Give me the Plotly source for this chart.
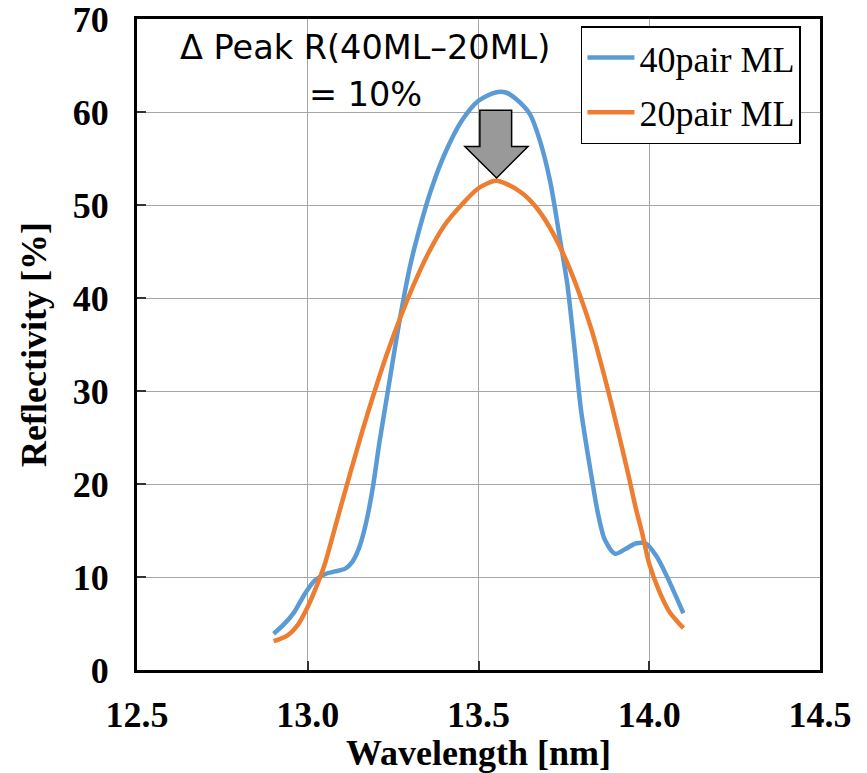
import plotly.graph_objects as go

# ---- data ----
wl_40 = [12.90, 12.93, 12.96, 12.99, 13.02, 13.05, 13.08, 13.11, 13.13, 13.15,
         13.17, 13.19, 13.21, 13.24, 13.27, 13.30, 13.33, 13.36, 13.40, 13.45,
         13.50, 13.55, 13.58, 13.61, 13.65, 13.68, 13.71, 13.74, 13.76, 13.78,
         13.80, 13.83, 13.85, 13.87, 13.90, 13.93, 13.96, 13.99, 14.02, 14.05, 14.10]
r_40 = [3.9, 4.9, 6.2, 8.1, 9.6, 10.3, 10.6, 10.9, 11.6, 13.1,
        15.7, 19.5, 24.5, 31.2, 37.8, 43.5, 47.8, 51.5, 55.4, 59.0,
        61.2, 62.1, 62.1, 61.4, 59.8, 56.9, 52.5, 46.0, 41.5, 35.0,
        28.0, 21.0, 16.8, 14.0, 12.5, 13.0, 13.6, 13.6, 12.3, 10.2, 6.1]

wl_20 = [12.90, 12.94, 12.97, 13.00, 13.03, 13.05, 13.07, 13.10, 13.13, 13.16,
         13.19, 13.23, 13.27, 13.31, 13.35, 13.40, 13.45, 13.50, 13.55, 13.58,
         13.63, 13.67, 13.71, 13.75, 13.79, 13.83, 13.87, 13.90, 13.94, 13.96,
         13.98, 14.00, 14.03, 14.06, 14.10]
r_20 = [3.1, 3.7, 4.8, 6.8, 9.4, 11.4, 14.0, 18.0, 21.9, 25.7,
        29.3, 33.8, 37.8, 41.4, 44.6, 47.8, 50.0, 51.8, 52.6, 52.3,
        51.2, 49.7, 47.5, 44.6, 41.0, 36.7, 31.4, 27.0, 20.8, 17.5,
        14.6, 11.4, 8.4, 6.2, 4.5]

series_names = ["40pair ML", "20pair ML"]
x_ticks = [12.5, 13.0, 13.5, 14.0, 14.5]
y_ticks = [0, 10, 20, 30, 40, 50, 60, 70]

annot_line1 = "Δ Peak R(40ML–20ML)"
annot_line2 = "= 10%"

BLUE = "#5B9BD5"
ORANGE = "#ED7D31"
SERIF = "Liberation Serif, Times New Roman, serif"
SANS = "DejaVu Sans, Verdana, sans-serif"

fig = go.Figure()
fig.add_trace(go.Scatter(x=wl_40, y=r_40, mode="lines", name=series_names[0],
                         legendgroup="a",
                         line=dict(color=BLUE, width=4.5, shape="spline", smoothing=0.8)))
fig.add_trace(go.Scatter(x=wl_20, y=r_20, mode="lines", name=series_names[1],
                         legendgroup="b",
                         line=dict(color=ORANGE, width=4.5, shape="spline", smoothing=0.8)))

# block arrow (decoration) in data coordinates
ax_l, ax_r, ah_l, ah_r, a_tip_x = 13.504, 13.597, 13.460, 13.645, 13.553
ay_top, ay_sh, ay_tip = 60.2, 56.3, 52.9
path = (f"M {ax_l},{ay_top} L {ax_r},{ay_top} L {ax_r},{ay_sh} L {ah_r},{ay_sh} "
        f"L {a_tip_x},{ay_tip} L {ah_l},{ay_sh} L {ax_l},{ay_sh} Z")
fig.add_shape(type="path", path=path, xref="x", yref="y",
              fillcolor="#999999", line=dict(color="black", width=1.5), layer="above")

fig.add_annotation(x=13.169, y=66.95, xref="x", yref="y", text=annot_line1,
                   showarrow=False, xanchor="center", yanchor="middle",
                   font=dict(family=SANS, size=33.5, color="black"))
fig.add_annotation(x=13.169, y=61.9, xref="x", yref="y", text=annot_line2,
                   showarrow=False, xanchor="center", yanchor="middle",
                   font=dict(family=SANS, size=33.5, color="black"))

axis_common = dict(
    showline=True, linecolor="black", linewidth=3, mirror=True,
    showgrid=True, gridcolor="#a6a6a6", gridwidth=1,
    ticks="inside", ticklen=9, tickwidth=1.5, tickcolor="#333333",
    zeroline=False, ticklabeloverflow="allow",
    tickfont=dict(family=SERIF, size=36, color="black", weight="bold"),
)

fig.update_xaxes(range=[12.5, 14.5], tickvals=x_ticks, tickformat=".1f",
                 ticklabelstandoff=11,
                 title=dict(text="Wavelength [nm]", standoff=5,
                            font=dict(family=SERIF, size=36, color="black", weight="bold")),
                 **axis_common)
fig.update_yaxes(range=[0, 70], tickvals=y_ticks,
                 ticklabelstandoff=18,
                 title=dict(text="Reflectivity [%]", standoff=16,
                            font=dict(family=SERIF, size=36, color="black", weight="bold")),
                 **axis_common)

fig.update_layout(
    width=867, height=773,
    margin=dict(l=137, r=47, t=19, b=103, autoexpand=False),
    paper_bgcolor="white", plot_bgcolor="white",
    showlegend=True,
    legend=dict(x=0.65, y=0.989, xanchor="left", yanchor="top",
                bgcolor="white", bordercolor="black", borderwidth=1.5,
                font=dict(family=SERIF, size=36, color="black"),
                itemwidth=47,
                traceorder="grouped", tracegroupgap=5),
)

fig.write_html("out.html",
               config={"displayModeBar": False},
               post_script="document.body.style.margin='0px';document.body.style.overflow='hidden';")
